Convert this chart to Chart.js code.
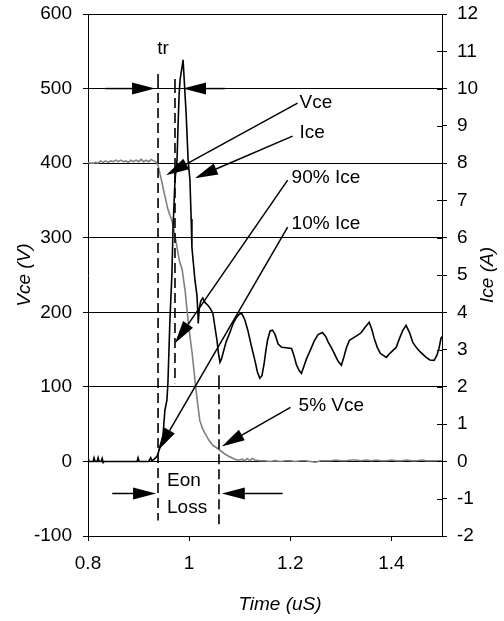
<!DOCTYPE html>
<html><head><meta charset="utf-8">
<script src="https://cdn.jsdelivr.net/npm/chart.js@4/dist/chart.umd.min.js"></script>
<style>html,body{margin:0;padding:0;background:#fff}#wrap{width:504px;height:621px}</style>
</head><body><div id="wrap"><canvas id="c" width="504" height="621"></canvas></div>
<script>
// ---- data ----
const vceTime = [0.800,0.805,0.810,0.815,0.820,0.825,0.830,0.835,0.840,0.845,0.850,0.855,0.860,0.865,0.870,0.875,0.880,0.885,0.890,0.895,0.900,0.905,0.910,0.915,0.920,0.925,0.930,0.935,
  0.9385,0.9425,0.946,0.950,0.954,0.958,0.962,0.966,0.970,0.976,0.981,0.986,0.992,0.998,1.003,1.006,1.0115,1.0155,1.021,1.026,1.031,1.0405,1.048,1.055,1.059,1.0706,1.078,1.0844,1.090,1.095,1.100,
  1.105,1.110,1.115,1.120,1.125,1.130,1.140,1.150,1.160,1.170,1.180,1.190,1.200,1.210,1.220,1.230,1.240,1.250,1.260,1.270,1.280,1.290,1.300,1.310,1.320,1.330,1.340,1.350,1.360,1.370,1.380,1.390,1.400,1.410,1.420,1.430,1.440,1.450,1.460,1.470,1.480,1.490,1.500];
const vceValues = [401,400,400,401,400,403,401,403,401,403,402,404,402,404,402,403,401,404,402,404,402,405,402,404,402,405,403,401,
  397,385,375,362,350,338,330,323,310,287,268,258,229,189,160,145,109,85,55,45,38,27,21,18,16,10,7,5,3,2,2,
  3,1,4,1,4,2,1,1,0,1,0,1,1,0,1,1,0,-1,1,1,1,2,1,1,2,2,1,2,1,2,1,1,2,1,1,2,1,1,2,1,1,1,1];

const iceTime = [0.800,0.802,0.810,0.812,0.814,0.818,0.820,0.822,0.826,0.828,0.830,0.832,0.880,0.897,0.899,0.901,0.920,0.924,0.926,0.930,0.934,
  0.937,0.9425,0.948,0.950,0.952,0.956,0.958,0.962,0.966,0.968,0.972,0.976,0.978,0.980,0.982,0.986,0.988,0.990,0.994,0.998,1.0016,1.004,1.0055,1.0115,1.0154,1.0173,1.018,1.020,
  1.023,1.027,1.032,1.037,1.042,1.047,1.051,1.055,1.058,1.061,1.064,1.067,1.073,1.080,1.087,1.094,1.099,1.104,1.110,1.116,1.123,1.130,1.135,1.1396,1.144,1.148,1.152,1.155,1.160,1.165,1.170,1.176,1.183,1.192,
  1.2025,1.207,1.212,1.217,1.222,1.227,1.232,1.237,1.242,1.248,1.255,1.2636,1.270,1.275,1.281,1.287,1.294,1.301,1.306,1.311,1.317,1.323,1.3326,1.340,1.348,1.356,1.361,1.366,1.372,1.378,1.3898,1.397,1.4095,1.416,1.422,1.429,1.436,1.442,1.449,1.456,1.4686,1.476,1.4844,1.490,1.494,1.498,1.500];
const iceValues = [0.1,0,0,0.1,0,0,0.1,0,0,0.08,-0.03,0,0,0,0.1,0,0,0.1,0.02,0.05,0.1,
  0.15,0.38,0.64,1.0,1.37,1.64,2.09,3.79,5.05,6.2,7.54,8.08,8.97,9.8,10.23,10.58,10.77,10.3,9.34,8.08,7.54,6.5,5.74,4.86,4.46,3.97,3.7,4.1,
  4.3,4.38,4.25,4.19,4.1,3.97,3.6,3.25,2.9,2.66,2.75,2.9,3.2,3.44,3.7,3.87,3.95,3.97,3.8,3.52,3.1,2.71,2.4,2.23,2.3,2.6,3.0,3.25,3.5,3.52,3.4,3.15,3.06,3.05,
  3.03,2.85,2.6,2.45,2.36,2.55,2.75,2.9,3.06,3.25,3.4,3.46,3.35,3.2,3.06,2.9,2.7,2.58,2.8,3.05,3.25,3.3,3.38,3.45,3.6,3.73,3.55,3.3,3.06,2.9,2.79,2.9,3.06,3.3,3.5,3.65,3.45,3.2,3.06,2.95,2.79,2.72,2.71,2.85,3.03,3.3,3.35];

const timeTicks = [0.8, 1, 1.2, 1.4];

// ---- annotations (in data units: time, volts) ----
const noteTexts = ['tr','Vce','Ice','90% Ice','10% Ice','5% Vce','Eon','Loss'];
const noteTimes = [0.9485,1.2184,1.2184,1.2026,1.2026,1.2164,0.9562,0.9562];
const noteVolts = [554,480.5,440.3,379.9,318.8,74.5,-26.2,-62.4];
const arrowFrom = [[0.8341,500],[1.0706,500],[1.2144,480.5],[1.2046,436.2],[1.1948,377.2],[1.1948,314.1],[1.2005,72.5],[0.8479,-43],[1.1848,-43]];
const arrowTo   = [[0.9326,500],[0.9878,500],[0.9543,383.9],[1.0114,379.9],[0.972,158.4],[0.9385,14.8],[1.0646,20.1],[0.9346,-43],[1.0646,-43]];
const markerTimes = [0.9385, 0.972, 1.059];
const markerTop = [519.5, 512.8, 115.4];
const markerBottom = [-79.2, 104.7, -84.6];

const FONT = '"Liberation Sans", Arial, sans-serif';
const FS = 19;
Chart.defaults.font.family = FONT;
Chart.defaults.font.size = FS;
Chart.defaults.color = '#000';

const pts = (xs, ys) => xs.map((x, i) => ({x: x, y: ys[i]}));
const noPad = s => { s.paddingTop = 0; s.paddingBottom = 0; s.paddingLeft = 0; s.paddingRight = 0; };

const annot = {
  id: 'annot',
  afterDraw(chart) {
    const ctx = chart.ctx, sx = chart.scales.x, sy = chart.scales.y, s1 = chart.scales.y1;
    const X = t => sx.getPixelForValue(t), Y = v => sy.getPixelForValue(v);
    ctx.save();
    ctx.strokeStyle = '#000'; ctx.fillStyle = '#000';
    // inner halves of right-axis ticks
    ctx.lineWidth = 1;
    s1.ticks.forEach(tk => {
      const y = Math.round(s1.getPixelForValue(tk.value)) + 0.5;
      ctx.beginPath(); ctx.moveTo(s1.left - 5, y); ctx.lineTo(s1.left, y); ctx.stroke();
    });
    // dashed marker lines
    ctx.lineWidth = 1.6;
    markerTimes.forEach((t, i) => {
      const x = X(t);
      ctx.setLineDash([]);
      ctx.beginPath(); ctx.moveTo(x, Y(markerTop[i])); ctx.lineTo(x, Y(markerTop[i]) + 14); ctx.stroke();
      ctx.setLineDash([10, 5]);
      ctx.beginPath(); ctx.moveTo(x, Y(markerTop[i]) + 19); ctx.lineTo(x, Y(markerBottom[i])); ctx.stroke();
    });
    ctx.setLineDash([]);
    // arrows
    ctx.lineWidth = 1.5;
    arrowFrom.forEach((f, i) => {
      const x0 = X(f[0]), y0 = Y(f[1]), x1 = X(arrowTo[i][0]), y1 = Y(arrowTo[i][1]);
      const a = Math.atan2(y1 - y0, x1 - x0), L = 23, W = 6;
      const bx = x1 - L * Math.cos(a), by = y1 - L * Math.sin(a);
      ctx.beginPath(); ctx.moveTo(x0, y0); ctx.lineTo(bx, by); ctx.stroke();
      ctx.beginPath(); ctx.moveTo(x1, y1);
      ctx.lineTo(bx + W * Math.sin(a), by - W * Math.cos(a));
      ctx.lineTo(bx - W * Math.sin(a), by + W * Math.cos(a));
      ctx.closePath(); ctx.fill();
    });
    // labels
    ctx.font = FS + 'px ' + FONT;
    ctx.textBaseline = 'middle';
    noteTexts.forEach((s, i) => {
      ctx.textAlign = i === 0 ? 'center' : 'left';
      ctx.fillText(s, X(noteTimes[i]), Y(noteVolts[i]));
    });
    // x axis title (sits slightly right of plot centre in the reference)
    ctx.font = 'italic ' + FS + 'px ' + FONT;
    ctx.textAlign = 'center';
    ctx.fillText('Time (uS)', 280, 605);
    // right axis title, reading bottom to top
    ctx.translate(488, (chart.chartArea.top + chart.chartArea.bottom) / 2);
    ctx.rotate(-Math.PI / 2);
    ctx.fillText('Ice (A)', 0, 0);
    ctx.restore();
  }
};

new Chart(document.getElementById('c'), {
  type: 'line',
  data: {
    datasets: [
      {label: 'Ice', data: pts(iceTime, iceValues), yAxisID: 'y1', borderColor: '#000', borderWidth: 1.6, pointRadius: 0, tension: 0, order: 0},
      {label: 'Vce', data: pts(vceTime, vceValues), yAxisID: 'y', borderColor: '#808080', borderWidth: 1.6, pointRadius: 0, tension: 0, order: 1}
    ]
  },
  options: {
    responsive: false, animation: false, devicePixelRatio: 1,
    layout: {padding: {top: 14, left: 0, right: 0, bottom: 0}},
    plugins: {legend: {display: false}, tooltip: {enabled: false}},
    scales: {
      x: {
        type: 'linear', min: 0.8, max: 1.5,
        afterBuildTicks: s => { s.ticks = timeTicks.map(v => ({value: v})); },
        afterFit: s => { s.height = 85; noPad(s); },
        grid: {drawOnChartArea: false, drawTicks: true, tickLength: 5, color: '#000'},
        border: {color: '#000', width: 1},
        ticks: {padding: 11, maxRotation: 0, callback: v => String(Math.round(v * 10) / 10)},
        title: {display: false}
      },
      y: {
        position: 'left', min: -100, max: 600,
        afterFit: s => { s.width = 88; noPad(s); },
        grid: {color: '#000', lineWidth: 1, tickLength: 5},
        border: {color: '#000', width: 1},
        ticks: {stepSize: 100, padding: 11, callback: v => String(v)},
        title: {display: true, text: 'Vce (V)', font: {size: FS, style: 'italic'}, padding: {top: 13, bottom: 0}}
      },
      y1: {
        position: 'right', min: -2, max: 12,
        afterFit: s => { s.width = 62; noPad(s); },
        grid: {drawOnChartArea: false, color: '#000', tickLength: 5},
        border: {color: '#000', width: 1},
        ticks: {stepSize: 1, padding: 10, callback: v => String(v)}
      }
    }
  },
  plugins: [annot]
});
</script>
</body></html>
